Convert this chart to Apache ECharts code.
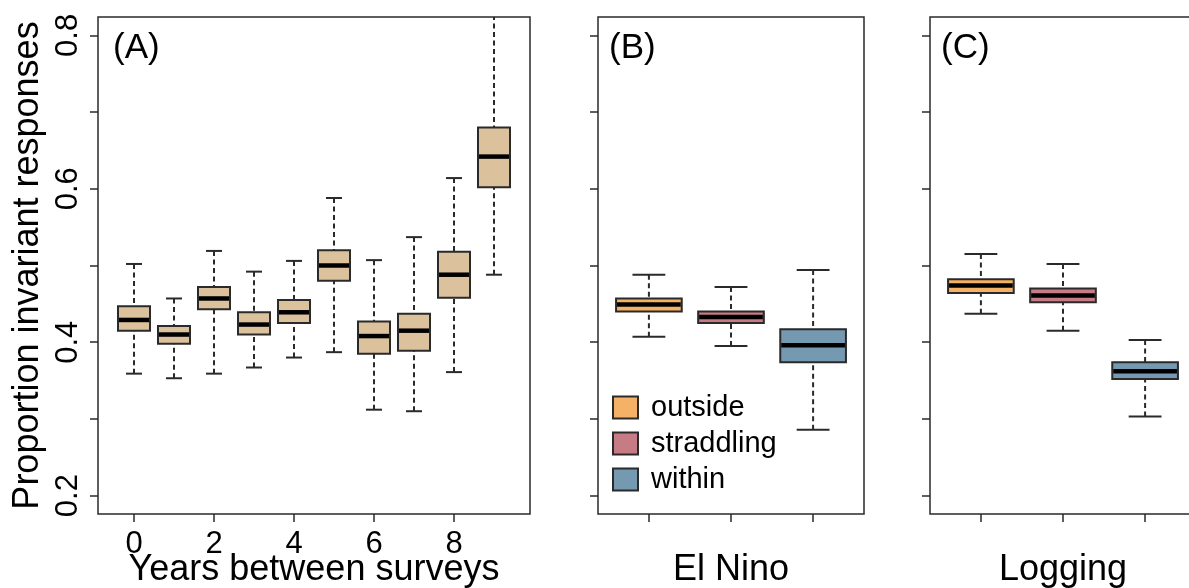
<!DOCTYPE html>
<html>
<head>
<meta charset="utf-8">
<script src="https://cdn.jsdelivr.net/npm/echarts@6/dist/echarts.min.js"></script>
<style>
html,body{margin:0;padding:0;background:#fff;}
#chart{width:1189px;height:588px;}
</style>
</head>
<body>
<div id="chart"></div>
<script>
// ---- data ----
const yearCats  = [0, 1, 2, 3, 4, 5, 6, 7, 8, 9];
const yearLow   = [0.359, 0.353, 0.359, 0.367, 0.380, 0.387, 0.312, 0.310, 0.361, 0.488];
const yearQ1    = [0.415, 0.398, 0.443, 0.410, 0.425, 0.480, 0.385, 0.389, 0.458, 0.602];
const yearMed   = [0.429, 0.410, 0.457, 0.423, 0.439, 0.500, 0.408, 0.415, 0.488, 0.642];
const yearQ3    = [0.447, 0.421, 0.472, 0.439, 0.455, 0.520, 0.427, 0.437, 0.518, 0.680];
const yearHigh  = [0.502, 0.457, 0.519, 0.492, 0.506, 0.588, 0.507, 0.537, 0.614, 0.860];

const groupCats = ['outside', 'straddling', 'within'];
const ninoLow   = [0.407, 0.395, 0.286];
const ninoQ1    = [0.440, 0.425, 0.374];
const ninoMed   = [0.449, 0.433, 0.396];
const ninoQ3    = [0.457, 0.440, 0.417];
const ninoHigh  = [0.488, 0.472, 0.494];

const logLow    = [0.437, 0.415, 0.303];
const logQ1     = [0.464, 0.452, 0.352];
const logMed    = [0.474, 0.461, 0.362];
const logQ3     = [0.482, 0.470, 0.374];
const logHigh   = [0.515, 0.502, 0.403];

const xTickYears = [0, 2, 4, 6, 8];
const yTicks     = [0.2, 0.3, 0.4, 0.5, 0.6, 0.7, 0.8];
const yTickLabels = [0.2, 0.4, 0.6, 0.8];

const panelTitles = ['(A)', '(B)', '(C)'];
const axisTitles  = ['Years between surveys', 'El Nino', 'Logging'];
const yTitle = 'Proportion invariant responses';

const tanColor = '#DCC29C';
const groupColors = ['#F5B266', '#C77B84', '#7499B0'];

// ---- styling ----
const FONT = '"Liberation Sans", Arial, sans-serif';
const STROKE = '#2a2a2a';

function renderBox(params, api) {
  const x = api.value(0);
  const lo = api.coord([x, api.value(1)]);
  const q1 = api.coord([x, api.value(2)]);
  const md = api.coord([x, api.value(3)]);
  const q3 = api.coord([x, api.value(4)]);
  const hi = api.coord([x, api.value(5)]);
  const w = api.size([0.8, 0])[0];
  const cx = lo[0];
  const color = api.visual('color');
  const dash = {stroke: STROKE, lineWidth: 2, lineDash: [5, 3.5]};
  const solid = {stroke: STROKE, lineWidth: 2};
  return {
    type: 'group',
    children: [
      {type: 'line', shape: {x1: cx, y1: lo[1], x2: cx, y2: q1[1]}, style: dash},
      {type: 'line', shape: {x1: cx, y1: hi[1], x2: cx, y2: q3[1]}, style: dash},
      {type: 'line', shape: {x1: cx - w / 4, y1: lo[1], x2: cx + w / 4, y2: lo[1]}, style: solid},
      {type: 'line', shape: {x1: cx - w / 4, y1: hi[1], x2: cx + w / 4, y2: hi[1]}, style: solid},
      {type: 'rect', shape: {x: cx - w / 2, y: q3[1], width: w, height: q1[1] - q3[1]},
        style: {fill: color, stroke: STROKE, lineWidth: 2}},
      {type: 'line', shape: {x1: cx - w / 2 + 1, y1: md[1], x2: cx + w / 2 - 1, y2: md[1]},
        style: {stroke: '#000', lineWidth: 4.5}}
    ]
  };
}

const grids = [
  {left: 98, top: 17, width: 432, height: 497},
  {left: 598, top: 17, width: 266, height: 497},
  {left: 930, top: 17, width: 266, height: 497}
];

function xAxisFor(i) {
  const isA = i === 0;
  return {
    type: 'value',
    gridIndex: i,
    min: isA ? -0.9 : 0.38,
    max: isA ? 9.9 : 3.62,
    name: axisTitles[i],
    nameLocation: 'middle',
    nameGap: 38,
    nameMoveOverlap: false,
    nameTextStyle: {fontFamily: FONT, fontSize: 36, color: '#000'},
    axisLine: {show: false, onZero: false},
    splitLine: {show: false},
    axisTick: {
      show: true, length: 8, inside: false,
      lineStyle: {color: STROKE, width: 1.5},
      customValues: isA ? xTickYears : [1, 2, 3]
    },
    axisLabel: {
      show: isA,
      customValues: isA ? xTickYears : [],
      margin: 15,
      fontFamily: FONT, fontSize: 31, color: '#000'
    }
  };
}

function yAxisFor(i) {
  const isA = i === 0;
  return {
    type: 'value',
    gridIndex: i,
    min: 0.176,
    max: 0.824,
    name: isA ? yTitle : '',
    nameLocation: 'middle',
    nameGap: 52,
    nameRotate: 90,
    nameMoveOverlap: false,
    nameTextStyle: {fontFamily: FONT, fontSize: 36, color: '#000'},
    axisLine: {show: false, onZero: false},
    splitLine: {show: false},
    axisTick: {
      show: true, length: 8, inside: false,
      lineStyle: {color: STROKE, width: 1.5},
      customValues: yTicks
    },
    axisLabel: {
      show: isA,
      customValues: isA ? yTickLabels : [],
      rotate: 90,
      margin: 14,
      fontFamily: FONT, fontSize: 31, color: '#000',
      formatter: v => v.toFixed(1)
    }
  };
}

const series = [];
series.push({
  type: 'custom',
  name: 'years',
  xAxisIndex: 0, yAxisIndex: 0,
  clip: true,
  itemStyle: {color: tanColor},
  renderItem: renderBox,
  encode: {x: 0, y: [1, 2, 3, 4, 5]},
  data: yearCats.map((c, k) => [c, yearLow[k], yearQ1[k], yearMed[k], yearQ3[k], yearHigh[k]])
});
groupCats.forEach((g, k) => {
  series.push({
    type: 'custom', name: g, xAxisIndex: 1, yAxisIndex: 1, clip: true,
    itemStyle: {color: groupColors[k]},
    renderItem: renderBox,
    encode: {x: 0, y: [1, 2, 3, 4, 5]},
    data: [[k + 1, ninoLow[k], ninoQ1[k], ninoMed[k], ninoQ3[k], ninoHigh[k]]]
  });
  series.push({
    type: 'custom', name: g, xAxisIndex: 2, yAxisIndex: 2, clip: true,
    itemStyle: {color: groupColors[k]},
    renderItem: renderBox,
    encode: {x: 0, y: [1, 2, 3, 4, 5]},
    data: [[k + 1, logLow[k], logQ1[k], logMed[k], logQ3[k], logHigh[k]]]
  });
});

const option = {
  backgroundColor: '#fff',
  animation: false,
  title: panelTitles.map((t, i) => ({
    text: t,
    left: grids[i].left + (i === 0 ? 15 : 11),
    top: 31,
    padding: 0,
    textStyle: {fontFamily: FONT, fontSize: 35, fontWeight: 'normal', color: '#000'}
  })),
  legend: {
    orient: 'vertical',
    left: 607, top: 388,
    itemWidth: 25, itemHeight: 22, itemGap: 7,
    icon: 'rect',
    selectedMode: false,
    textStyle: {fontFamily: FONT, fontSize: 29, color: '#000', padding: [0, 0, 0, 8]},
    data: groupCats.map((g, k) => ({
      name: g,
      itemStyle: {color: groupColors[k], borderColor: STROKE, borderWidth: 2}
    }))
  },
  grid: grids.map(g => Object.assign({
    show: true, borderColor: STROKE, borderWidth: 1.5, backgroundColor: 'transparent',
    containLabel: false, outerBoundsMode: 'none'
  }, g)),
  xAxis: [0, 1, 2].map(xAxisFor),
  yAxis: [0, 1, 2].map(yAxisFor),
  series: series
};

const chart = echarts.init(document.getElementById('chart'), null, {renderer: 'canvas'});
chart.setOption(option);
</script>
</body>
</html>
